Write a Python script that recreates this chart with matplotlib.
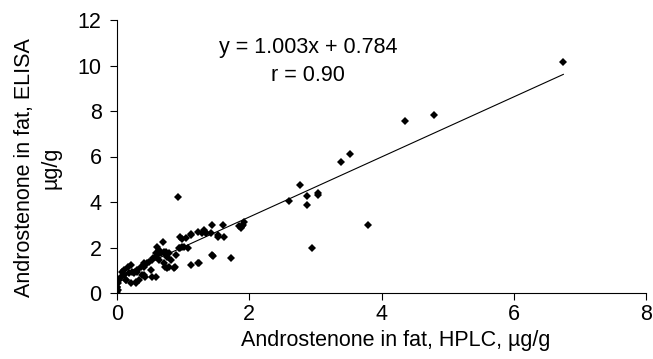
import numpy as np
import matplotlib
matplotlib.use("Agg")
import matplotlib.pyplot as plt

plt.rcParams['font.family'] = ['Liberation Sans', 'DejaVu Sans']

# HPLC (x) vs ELISA (y), ug/g
hplc = [6.75, 4.35, 4.79, 3.79, 2.95, 3.39, 3.52, 2.60, 2.76, 2.88, 2.88, 3.04, 3.04,
        1.87, 1.89, 1.90, 1.92, 1.88, 1.85, 0.93,
        1.44, 1.61, 1.52, 1.62, 1.45, 1.72, 1.12, 1.22, 1.22, 1.32, 1.35, 1.12,
        0.98, 1.04, 0.94, 0.99, 1.07, 0.89, 0.76, 0.88, 0.69, 0.61, 0.64, 0.71,
        0.79, 0.81, 0.53, 0.59, 0.41, 0.48, 0.53, 0.31, 0.36, 0.28, 0.18, 0.23,
        0.08, 0.11, 0.03, 0.00, 0.01, 0.43, 0.38, 0.59, 0.13,
        0.96, 1.12, 1.29, 1.42, 1.52, 1.01, 0.96, 0.71, 0.76, 0.86, 0.79, 0.71,
        1.44, 0.64, 1.34, 1.24,
        0.00, 0.01, 0.06, 0.11, 0.16, 0.21, 0.26, 0.31, 0.41, 0.46, 0.54, 0.59,
        0.34, 0.29, 0.00, 0.14, 0.72, 0.64, 0.67, 0.74, 0.52, 0.41, 0.21]
elisa = [10.15, 7.58, 7.82, 3.00, 1.97, 5.75, 6.10, 4.03, 4.75, 4.25, 3.88, 4.40, 4.32,
         2.85, 2.95, 3.00, 3.10, 2.90, 2.93, 4.22,
         3.00, 3.00, 2.56, 2.46, 1.63, 1.56, 1.24, 1.31, 2.70, 2.78, 2.63, 2.60,
         2.37, 2.41, 1.97, 2.04, 1.97, 1.68, 1.09, 1.13, 2.26, 2.04, 1.90, 1.82,
         1.75, 1.46, 1.46, 1.60, 1.31, 1.38, 0.72, 1.01, 1.16, 0.50, 0.87, 0.94,
         0.94, 0.79, 0.57, 0.28, 0.13, 0.72, 0.79, 0.72, 0.57,
         2.48, 2.56, 2.63, 2.63, 2.48, 2.04, 1.97, 1.75, 1.60, 1.09, 1.16, 1.31,
         1.68, 1.75, 2.63, 1.31,
         0.06, 0.43, 0.72, 1.01, 1.16, 1.24, 0.87, 0.94, 1.16, 1.31, 1.53, 1.75,
         0.57, 0.43, 0.28, 0.57, 1.16, 1.46, 1.75, 1.82, 1.01, 0.79, 0.43]

# trend line as drawn in the figure
line_slope = 1.32
line_icept = 0.70
line_x = [0.0, 6.75]

x_ticks = [0, 2, 4, 6, 8]
y_ticks = [0, 2, 4, 6, 8, 10, 12]

fs = 15.5

fig = plt.figure(figsize=(6.53, 3.59), dpi=100)
ax = fig.add_axes([117/653, 1-293/359, 529/653, 273/359])

ax.plot(hplc, elisa, 'D', color='black', markersize=4.0, markeredgewidth=0)
lx = np.array(line_x)
ax.plot(lx, line_slope*lx + line_icept, color='black', linewidth=0.8)

ax.set_xlim(0, 8)
ax.set_ylim(0, 12)
ax.set_xticks(x_ticks)
ax.set_yticks(y_ticks)
ax.spines['top'].set_visible(False)
ax.spines['right'].set_visible(False)
ax.spines['left'].set_linewidth(0.8)
ax.spines['bottom'].set_linewidth(0.8)
ax.tick_params(direction='out', length=5, width=0.8, labelsize=fs)
ax.tick_params(axis='x', pad=3)
ax.tick_params(axis='y', pad=6)

ax.text(2.89, 10.8, 'y = 1.003x + 0.784', ha='center', va='center', fontsize=fs)
ax.text(2.89, 9.57, 'r = 0.90', ha='center', va='center', fontsize=fs)

ax.set_xlabel('Androstenone in fat, HPLC, µg/g', fontsize=fs)
ax.set_ylabel('Androstenone in fat, ELISA\nµg/g', fontsize=fs, linespacing=1.35)
ax.xaxis.set_label_coords(0.527, -0.135)
ax.yaxis.set_label_coords(-0.104, 0.46)

fig.savefig('out.png', dpi=100)
